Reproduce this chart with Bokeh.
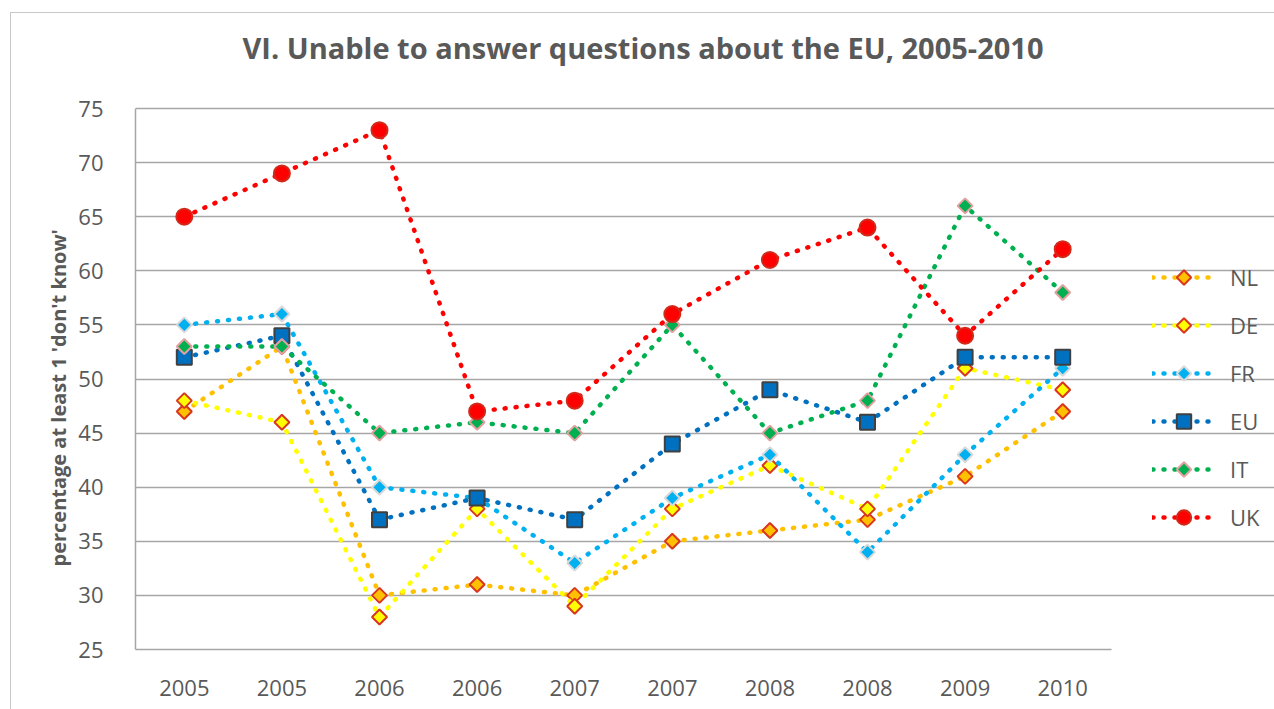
from bokeh.plotting import figure
from bokeh.models import Range1d, FixedTicker, Legend, LegendItem, Title
from bokeh.embed import file_html
from bokeh.resources import INLINE
import numpy as np

# Survey waves (two per year in 2005-2008)
periods = ["2005", "2005", "2006", "2006", "2007", "2007", "2008", "2008", "2009", "2010"]

# Percentage answering "don't know" to at least one question
nl = [47, 53, 30, 31, 30, 35, 36, 37, 41, 47]
de = [48, 46, 28, 38, 29, 38, 42, 38, 51, 49]
fr = [55, 56, 40, 39, 33, 39, 43, 34, 43, 51]
eu = [52, 54, 37, 39, 37, 44, 49, 46, 52, 52]
it = [53, 53, 45, 46, 45, 55, 45, 48, 66, 58]
uk = [65, 69, 73, 47, 48, 56, 61, 64, 54, 62]

y_ticks = [25, 30, 35, 40, 45, 50, 55, 60, 65, 70, 75]

TEXT = "#595959"
GRID = "#a6a6a6"
FONT = "Open Sans"

xs = list(range(len(periods)))

# The plotting frame reaches the right edge so the legend can sit in it;
# grid and axes are bounded to the data area.
W, H = 1264, 697
LEFT, TOP, BOTTOM = 124, 64, 61
px_per_cat = 97.6
px_per_unit = 10.82
x_end = -0.5 + (W - LEFT) / px_per_cat
y_end = 25 + (H - TOP - BOTTOM) / px_per_unit

p = figure(width=W, height=H, output_backend="svg", toolbar_location=None,
           x_range=Range1d(-0.5, x_end), y_range=Range1d(25, y_end),
           min_border_left=LEFT, min_border_right=0, min_border_top=TOP,
           min_border_bottom=BOTTOM)
p.margin = (12, 0, 0, 10)
p.styles = {"border-left": "1px solid #c8c8c8", "border-top": "1px solid #c8c8c8"}
p.outline_line_color = None
p.background_fill_color = "white"
p.border_fill_color = "white"

p.title.text = "VI. Unable to answer questions about the EU, 2005-2010"
p.title.text_font = FONT
p.title.text_font_style = "bold"
p.title.text_font_size = "29px"
p.title.text_color = TEXT
p.title.align = "left"
p.title.offset = 107
p.title.standoff = 22

# axes
p.xaxis.ticker = FixedTicker(ticks=xs)
p.xaxis.major_label_overrides = {i: s for i, s in enumerate(periods)}
p.xaxis.bounds = (-0.5, len(periods) - 0.5)
p.yaxis.ticker = FixedTicker(ticks=y_ticks)
p.yaxis.bounds = (25, 75)
for ax in (p.xaxis[0], p.yaxis[0]):
    ax.major_tick_line_color = None
    ax.minor_tick_line_color = None
    ax.axis_line_color = GRID
    ax.axis_line_width = 1.5
    ax.major_label_text_font = FONT
    ax.major_label_text_font_size = "22px"
    ax.major_label_text_color = TEXT
p.xaxis.major_label_standoff = 24
p.yaxis.major_label_standoff = 26

# y-axis caption, set a little above the frame's middle
ylab = Title(text="percentage at least 1 'don't know'", align="left", offset=83,
             text_font=FONT, text_font_style="bold", text_font_size="20px",
             text_color=TEXT, standoff=7)
p.add_layout(ylab, "left")

p.xgrid.grid_line_color = None
p.ygrid.ticker = FixedTicker(ticks=y_ticks)
p.ygrid.bounds = (-0.5, len(periods) - 0.5)
p.ygrid.grid_line_color = GRID
p.ygrid.grid_line_width = 1.5

series = [
    ("NL", nl, "#FFC000", "diamond", "#D9361E"),
    ("DE", de, "#FFFF00", "diamond", "#D9361E"),
    ("FR", fr, "#00B0F0", "diamond", "#D9D9D9"),
    ("EU", eu, "#0070C0", "square", "#404040"),
    ("IT", it, "#00B050", "diamond", "#E3A0A0"),
    ("UK", uk, "#FF0000", "circle", "#D22A1A"),
]

have_ngon = hasattr(p, "ngon")

items = []
for name, vals, color, marker, edge in series:
    ln = p.line(xs, vals, line_color=color, line_width=4.5, line_dash="1 10",
                line_cap="round")
    if marker == "diamond" and have_ngon:
        mk = p.ngon(x=xs, y=vals, radius=7.5, radius_units="screen", n=4,
                    fill_color=color, line_color=edge, line_width=2)
    elif marker == "diamond":
        mk = p.scatter(xs, vals, marker="square", size=10.5, angle=np.pi / 4,
                       fill_color=color, line_color=edge, line_width=2)
    elif marker == "square":
        mk = p.scatter(xs, vals, marker="square", size=15,
                       fill_color=color, line_color=edge, line_width=2)
    else:
        mk = p.scatter(xs, vals, marker="circle", size=16,
                       fill_color=color, line_color=edge, line_width=2)
    items.append(LegendItem(label=name, renderers=[ln, mk]))

legend = Legend(items=items, location=(1017, 114))
legend.glyph_width = 63
legend.glyph_height = 36
legend.label_height = 22
legend.label_standoff = 15
legend.label_text_font = FONT
legend.label_text_font_size = "22px"
legend.label_text_color = TEXT
legend.spacing = 12
legend.padding = 0
legend.margin = 0
legend.border_line_color = None
legend.background_fill_alpha = 0
p.add_layout(legend, "center")

open("out.html", "w").write(file_html(p, INLINE))
